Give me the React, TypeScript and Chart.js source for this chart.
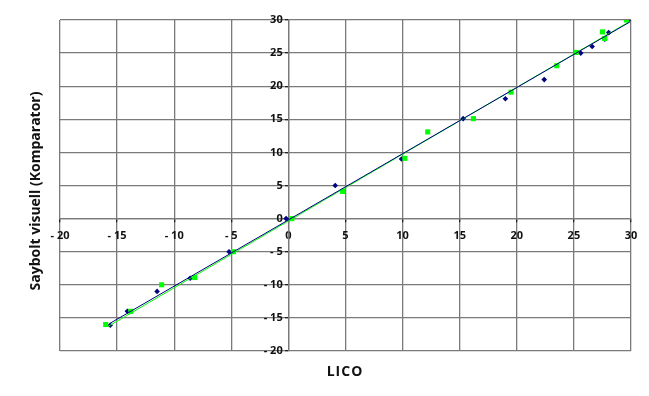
import React, { useEffect, useRef } from "react";
import { Chart, registerables } from "chart.js";

Chart.register(...registerables);

const xTickValues = [-20, -15, -10, -5, 0, 5, 10, 15, 20, 25, 30];
const yTickValues = [-20, -15, -10, -5, 0, 5, 10, 15, 20, 25, 30];

const navyX = [-15.6, -14.1, -11.5, -8.6, -5.2, -0.2, 4.1, 9.9, 15.3, 19.0, 22.4, 25.6, 26.6, 27.7, 28.05, 29.8];
const navyY = [-16.1, -14.0, -11.0, -9.0, -5.0, 0.0, 5.0, 9.0, 15.1, 18.1, 21.0, 25.0, 26.0, 27.1, 28.1, 30.0];

const greenX = [-16.0, -13.8, -11.1, -8.2, -4.8, 0.3, 4.75, 10.2, 12.2, 16.2, 19.5, 23.5, 25.2, 27.5, 27.7, 29.6];
const greenY = [-16.0, -14.0, -10.0, -8.9, -5.0, 0.0, 4.1, 9.1, 13.1, 15.1, 19.1, 23.1, 25.1, 28.2, 27.2, 30.0];

const navyTrendX = [-15.6, 29.9];
const navyTrendY = [-15.8, 29.7];
const greenTrendX = [-15.8, 29.9];
const greenTrendY = [-16.3, 29.8];

const xTitle = "LICO";
const yTitle = "Saybolt visuell (Komparator)";

const zip = (xs: number[], ys: number[]) => xs.map((x, i) => ({ x, y: ys[i] }));
const fmt = (v: number) => (v < 0 ? "- " + Math.abs(v) : String(v));

const titlePlugin = {
  id: "titles",
  afterDraw(chart: any) {
    const ctx = chart.ctx;
    ctx.save();
    ctx.fillStyle = "#111";
    ctx.font = "bold 14px 'Open Sans'";
    ctx.textAlign = "center";
    ctx.textBaseline = "middle";
    (ctx as any).letterSpacing = "1px";
    ctx.fillText(xTitle, 345, 372);
    (ctx as any).letterSpacing = "0px";
    ctx.translate(36, 191);
    ctx.rotate(-Math.PI / 2);
    ctx.fillText(yTitle, 0, 0);
    ctx.restore();
  },
};

export default function App() {
  const ref = useRef<HTMLCanvasElement | null>(null);
  useEffect(() => {
    document.body.style.margin = "0";
    const grid = {
      color: "#7a7a7a",
      lineWidth: 1.3,
      tickLength: 3,
      tickColor: "#222",
      drawTicks: true,
    };
    const tickFont = { family: "'Open Sans'", size: 11, weight: "bold" as const };
    const chart = new Chart(ref.current!, {
      type: "scatter",
      data: {
        datasets: [
          {
            type: "line",
            label: "navy trend",
            data: zip(navyTrendX, navyTrendY),
            borderColor: "#000080",
            borderWidth: 1,
            pointRadius: 0,
            order: 1,
          },
          {
            type: "line",
            label: "green trend",
            data: zip(greenTrendX, greenTrendY),
            borderColor: "#00ff00",
            borderWidth: 1,
            pointRadius: 0,
            order: 2,
          },
          {
            label: "green",
            data: zip(greenX, greenY),
            backgroundColor: "#00ff00",
            borderColor: "#00ff00",
            pointStyle: "rect",
            pointRadius: 3.6,
            borderWidth: 0,
            order: 3,
          },
          {
            label: "navy",
            data: zip(navyX, navyY),
            backgroundColor: "#000080",
            borderColor: "#000080",
            pointStyle: "rectRot",
            pointRadius: 2.8,
            borderWidth: 0,
            order: 4,
          },
        ],
      },
      options: {
        animation: false,
        responsive: false,
        maintainAspectRatio: false,
        layout: { padding: { left: 60, right: 18, top: 20, bottom: 45 } },
        plugins: { legend: { display: false }, tooltip: { enabled: false } },
        scales: {
          x: {
            type: "linear",
            position: { y: 0 } as any,
            min: -20,
            max: 30,
            afterFit: (s: any) => {
              s.height = 0;
            },
            afterBuildTicks: (s: any) => {
              s.ticks = xTickValues.map((v) => ({ value: v }));
            },
            ticks: {
              callback: (v: any) => fmt(Number(v)),
              font: tickFont,
              color: "#111",
              padding: 8,
              maxRotation: 0,
              autoSkip: false,
            },
            grid,
            border: { color: "#7a7a7a", width: 1.3 },
          },
          y: {
            type: "linear",
            position: { x: 0 } as any,
            min: -20,
            max: 30,
            afterFit: (s: any) => {
              s.width = 0;
            },
            afterBuildTicks: (s: any) => {
              s.ticks = yTickValues.map((v) => ({ value: v }));
            },
            ticks: {
              callback: (v: any) => fmt(Number(v)) + "  ",
              font: tickFont,
              color: "#111",
              padding: 4,
              autoSkip: false,
            },
            grid,
            border: { color: "#7a7a7a", width: 1.3 },
          },
        },
      },
      plugins: [titlePlugin],
    });
    return () => chart.destroy();
  }, []);
  return <canvas ref={ref} width={649} height={396} style={{ display: "block" }} />;
}
